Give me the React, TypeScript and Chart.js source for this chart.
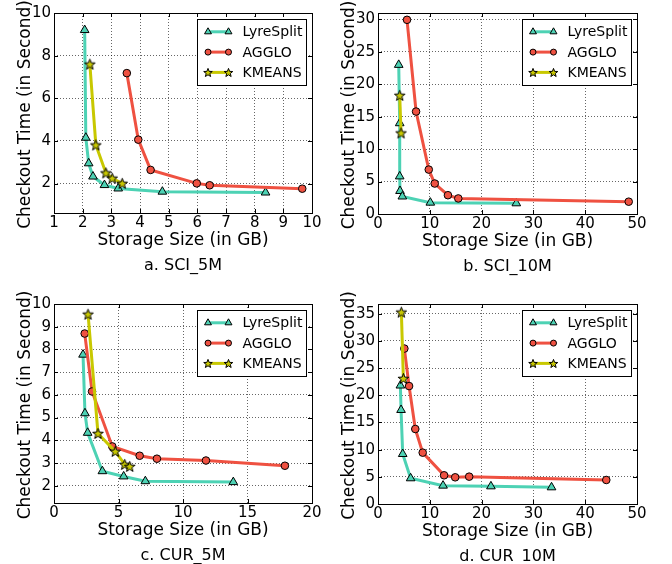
import React, { useEffect, useRef } from 'react';
import { Chart, registerables } from 'chart.js';

Chart.register(...registerables);

// ---------- shared labels ----------
const SERIES_NAMES = ['LyreSplit', 'AGGLO', 'KMEANS'];
const SERIES_COLORS = ['#4DD2B4', '#EF5141', '#C8C800'];
const X_TITLE = 'Storage Size (in GB)';
const Y_TITLE = 'Checkout Time (in Second)';

// ---------- panel a: SCI_5M ----------
const A_CAPTION = 'a. SCI_5M';
const A_X_TICKS = [1, 2, 3, 4, 5, 6, 7, 8, 9, 10];
const A_Y_TICKS = [2, 4, 6, 8, 10];
const A_LYRE_X = [2.07, 2.11, 2.21, 2.36, 2.76, 3.24, 4.78, 8.38];
const A_LYRE_Y = [9.2, 4.15, 2.95, 2.33, 1.93, 1.77, 1.62, 1.58];
const A_AGGLO_X = [3.54, 3.94, 4.37, 5.98, 6.43, 9.66];
const A_AGGLO_Y = [7.18, 4.06, 2.64, 2.01, 1.92, 1.76];
const A_KMEANS_X = [2.25, 2.46, 2.81, 3.03, 3.38];
const A_KMEANS_Y = [7.6, 3.81, 2.5, 2.25, 2.01];

// ---------- panel b: SCI_10M ----------
const B_CAPTION = 'b. SCI_10M';
const B_X_TICKS = [0, 10, 20, 30, 40, 50];
const B_Y_TICKS = [0, 5, 10, 15, 20, 25, 30];
const B_LYRE_X = [4.0, 4.19, 4.19, 4.25, 4.7, 10.1, 26.7];
const B_LYRE_Y = [23.0, 14.0, 5.8, 3.55, 2.7, 1.75, 1.65];
const B_AGGLO_X = [5.6, 7.35, 9.8, 10.95, 13.5, 15.5, 48.4];
const B_AGGLO_Y = [29.95, 15.8, 6.85, 4.7, 2.9, 2.4, 1.9];
const B_KMEANS_X = [4.19, 4.45];
const B_KMEANS_Y = [18.3, 12.5];

// ---------- panel c: CUR_5M ----------
const C_CAPTION = 'c. CUR_5M';
const C_X_TICKS = [0, 5, 10, 15, 20];
const C_Y_TICKS = [2, 3, 4, 5, 6, 7, 8, 9, 10];
const C_LYRE_X = [2.25, 2.4, 2.61, 3.75, 5.4, 7.08, 13.9];
const C_LYRE_Y = [7.77, 5.19, 4.33, 2.64, 2.41, 2.2, 2.16];
const C_AGGLO_X = [2.38, 2.95, 4.52, 6.64, 7.98, 11.78, 17.9];
const C_AGGLO_Y = [8.7, 6.15, 3.73, 3.32, 3.19, 3.11, 2.88];
const C_KMEANS_X = [2.64, 3.41, 4.75, 5.48, 5.87];
const C_KMEANS_Y = [9.55, 4.3, 3.51, 2.94, 2.85];

// ---------- panel d: CUR_10M ----------
const D_CAPTION = 'd. CUR_10M';
const D_X_TICKS = [0, 10, 20, 30, 40, 50];
const D_Y_TICKS = [0, 5, 10, 15, 20, 25, 30, 35];
const D_LYRE_X = [4.32, 4.45, 4.77, 6.3, 12.56, 21.8, 33.5];
const D_LYRE_Y = [21.8, 17.3, 9.2, 4.73, 3.38, 3.25, 3.07];
const D_AGGLO_X = [5.09, 6.0, 7.2, 8.63, 12.76, 14.9, 17.6, 44.07];
const D_AGGLO_Y = [28.6, 21.7, 13.8, 9.45, 5.28, 4.91, 5.03, 4.42];
const D_KMEANS_X = [4.51, 4.9];
const D_KMEANS_Y = [35.3, 23.1];

// ---------- layout (positions / sizes only) ----------
const W = 336;
const H = 282;
const FONT = "'DejaVu Sans', 'Liberation Sans', sans-serif";

type Rect = { l: number; t: number; r: number; b: number };
type Panel = {
  caption: string;
  xTicks: number[];
  yTicks: number[];
  xRange: [number, number];
  yRange: [number, number];
  series: { x: number[]; y: number[] }[];
  rect: Rect;
  left: number;
  top: number;
};

const PANELS: Panel[] = [
  {
    caption: A_CAPTION, xTicks: A_X_TICKS, yTicks: A_Y_TICKS, xRange: [1, 10], yRange: [0.62, 10],
    series: [{ x: A_LYRE_X, y: A_LYRE_Y }, { x: A_AGGLO_X, y: A_AGGLO_Y }, { x: A_KMEANS_X, y: A_KMEANS_Y }],
    rect: { l: 54, t: 13, r: 312, b: 213 }, left: 0, top: 0,
  },
  {
    caption: B_CAPTION, xTicks: B_X_TICKS, yTicks: B_Y_TICKS, xRange: [0, 50], yRange: [0, 31],
    series: [{ x: B_LYRE_X, y: B_LYRE_Y }, { x: B_AGGLO_X, y: B_AGGLO_Y }, { x: B_KMEANS_X, y: B_KMEANS_Y }],
    rect: { l: 42, t: 13, r: 301, b: 214 }, left: 336, top: 0,
  },
  {
    caption: C_CAPTION, xTicks: C_X_TICKS, yTicks: C_Y_TICKS, xRange: [0, 20], yRange: [1.24, 10],
    series: [{ x: C_LYRE_X, y: C_LYRE_Y }, { x: C_AGGLO_X, y: C_AGGLO_Y }, { x: C_KMEANS_X, y: C_KMEANS_Y }],
    rect: { l: 54, t: 22, r: 312, b: 221 }, left: 0, top: 282,
  },
  {
    caption: D_CAPTION, xTicks: D_X_TICKS, yTicks: D_Y_TICKS, xRange: [0, 50], yRange: [0, 36.8],
    series: [{ x: D_LYRE_X, y: D_LYRE_Y }, { x: D_AGGLO_X, y: D_AGGLO_Y }, { x: D_KMEANS_X, y: D_KMEANS_Y }],
    rect: { l: 42, t: 22, r: 301, b: 222 }, left: 336, top: 282,
  },
];

function starPath(ctx: CanvasRenderingContext2D, cx: number, cy: number, outer: number, inner: number) {
  ctx.beginPath();
  for (let i = 0; i < 10; i++) {
    const rad = (Math.PI / 5) * i - Math.PI / 2;
    const rr = i % 2 === 0 ? outer : inner;
    const px = cx + Math.cos(rad) * rr;
    const py = cy + Math.sin(rad) * rr;
    if (i === 0) ctx.moveTo(px, py);
    else ctx.lineTo(px, py);
  }
  ctx.closePath();
}

function makeStar(outer: number, inner: number, color: string): HTMLCanvasElement {
  const size = Math.ceil(outer * 2 + 3);
  const c = document.createElement('canvas');
  c.width = size;
  c.height = size;
  const ctx = c.getContext('2d')!;
  starPath(ctx, size / 2, size / 2 + 0.5, outer, inner);
  ctx.fillStyle = color;
  ctx.fill();
  ctx.lineWidth = 1;
  ctx.strokeStyle = '#000';
  ctx.stroke();
  return c;
}

function drawMarker(ctx: CanvasRenderingContext2D, kind: number, x: number, y: number, color: string) {
  ctx.save();
  ctx.fillStyle = color;
  ctx.strokeStyle = '#000';
  ctx.lineWidth = 1;
  if (kind === 0) {
    const r = 4;
    ctx.beginPath();
    let a = 0;
    ctx.moveTo(x + Math.sin(a) * r, y - Math.cos(a) * r);
    a += (2 * Math.PI) / 3;
    ctx.lineTo(x + Math.sin(a) * r, y - Math.cos(a) * r);
    a += (2 * Math.PI) / 3;
    ctx.lineTo(x + Math.sin(a) * r, y - Math.cos(a) * r);
    ctx.closePath();
    ctx.fill();
    ctx.stroke();
  } else if (kind === 1) {
    ctx.beginPath();
    ctx.arc(x, y, 3, 0, Math.PI * 2);
    ctx.fill();
    ctx.stroke();
  } else {
    starPath(ctx, x, y + 0.5, 4.5, 1.9);
    ctx.fill();
    ctx.stroke();
  }
  ctx.restore();
}

const decorPlugin = {
  id: 'decor',
  afterDraw(chart: any, _args: any, opts: any) {
    const { ctx, chartArea: ca } = chart;
    const xs = chart.scales.x;
    const ys = chart.scales.y;
    ctx.save();
    ctx.strokeStyle = '#000';
    ctx.lineWidth = 1;
    // inward ticks on all four sides
    ctx.beginPath();
    for (const t of xs.ticks) {
      const px = Math.round(xs.getPixelForValue(t.value)) + 0.5;
      ctx.moveTo(px, ca.bottom);
      ctx.lineTo(px, ca.bottom - 4);
      ctx.moveTo(px, ca.top);
      ctx.lineTo(px, ca.top + 4);
    }
    for (const t of ys.ticks) {
      const py = Math.round(ys.getPixelForValue(t.value)) + 0.5;
      ctx.moveTo(ca.left, py);
      ctx.lineTo(ca.left + 4, py);
      ctx.moveTo(ca.right, py);
      ctx.lineTo(ca.right - 4, py);
    }
    ctx.stroke();
    // frame
    ctx.strokeRect(ca.left + 0.5, ca.top + 0.5, ca.right - ca.left, ca.bottom - ca.top);

    // legend
    const bw = 109;
    const bh = 66;
    const bx = Math.round(ca.right - 6 - bw) + 0.5;
    const by = Math.round(ca.top + 6) + 0.5;
    ctx.fillStyle = '#fff';
    ctx.fillRect(bx, by, bw, bh);
    ctx.strokeStyle = '#000';
    ctx.strokeRect(bx, by, bw, bh);
    const names: string[] = opts.names;
    const colors: string[] = opts.colors;
    ctx.font = `14px ${FONT}`;
    ctx.textBaseline = 'middle';
    ctx.textAlign = 'left';
    names.forEach((name, i) => {
      const ry = by + 12.3 + i * 20.3;
      const m1 = bx + 10.5;
      const m2 = bx + 31;
      ctx.strokeStyle = colors[i];
      ctx.lineWidth = 3;
      ctx.beginPath();
      ctx.moveTo(m1, ry);
      ctx.lineTo(m2, ry);
      ctx.stroke();
      drawMarker(ctx, i, m1, ry, colors[i]);
      drawMarker(ctx, i, m2, ry, colors[i]);
      ctx.fillStyle = '#000';
      ctx.fillText(name, bx + 45, ry + 1);
    });

    // axis titles and caption
    const cx = (ca.left + ca.right) / 2;
    ctx.fillStyle = '#000';
    ctx.textAlign = 'center';
    ctx.textBaseline = 'middle';
    ctx.font = `17px ${FONT}`;
    ctx.fillText(opts.xTitle, cx, ca.bottom + 28);
    ctx.font = `16px ${FONT}`;
    ctx.fillText(opts.caption, cx, ca.bottom + 53);
    ctx.save();
    ctx.translate(ca.left - 24.5, (ca.top + ca.bottom) / 2 + 1.5);
    ctx.rotate(-Math.PI / 2);
    ctx.font = `17px ${FONT}`;
    ctx.textBaseline = 'alphabetic';
    ctx.textAlign = 'center';
    ctx.fillText(opts.yTitle, 0, 0);
    ctx.restore();
    ctx.restore();
  },
};

function PanelChart({ panel }: { panel: Panel }) {
  const ref = useRef<HTMLCanvasElement | null>(null);
  useEffect(() => {
    if (!ref.current) return;
    const star = makeStar(5.6, 2.3, SERIES_COLORS[2]);
    const styles: any[] = ['triangle', 'circle', star];
    const radii = [5, 3.8, 6];
    const orders = [2, 1, 0];
    const datasets = panel.series.map((s, i) => ({
      label: SERIES_NAMES[i],
      data: s.x.map((x, k) => ({ x, y: s.y[k] })),
      showLine: true,
      tension: 0,
      borderColor: SERIES_COLORS[i],
      borderWidth: 3,
      backgroundColor: SERIES_COLORS[i],
      pointStyle: styles[i],
      pointRadius: radii[i],
      pointBackgroundColor: SERIES_COLORS[i],
      pointBorderColor: '#000',
      pointBorderWidth: 1,
      order: orders[i],
    }));
    const { rect } = panel;
    const tickFont = { family: FONT, size: 15 };
    const chart = new Chart(ref.current, {
      type: 'scatter',
      data: { datasets },
      plugins: [decorPlugin],
      options: {
        animation: false,
        responsive: false,
        devicePixelRatio: 1,
        layout: { padding: { left: 0, top: rect.t, right: W - rect.r, bottom: 0 } },
        plugins: {
          legend: { display: false },
          tooltip: { enabled: false },
          title: { display: false },
          decor: {
            names: SERIES_NAMES,
            colors: SERIES_COLORS,
            xTitle: X_TITLE,
            yTitle: Y_TITLE,
            caption: panel.caption,
          },
        } as any,
        scales: {
          x: {
            type: 'linear',
            min: panel.xRange[0],
            max: panel.xRange[1],
            afterBuildTicks: (s: any) => {
              s.ticks = panel.xTicks.map((v) => ({ value: v }));
            },
            afterFit: (s: any) => {
              s.height = H - rect.b;
            },
            ticks: {
              font: tickFont,
              color: '#000',
              padding: 1,
              maxRotation: 0,
              autoSkip: false,
              callback: (v: any) => String(v),
            },
            grid: { color: 'rgba(0,0,0,0.6)', lineWidth: 1, drawTicks: false },
            border: { display: false, dash: [1, 2] },
          },
          y: {
            type: 'linear',
            min: panel.yRange[0],
            max: panel.yRange[1],
            afterBuildTicks: (s: any) => {
              s.ticks = panel.yTicks.map((v) => ({ value: v }));
            },
            afterFit: (s: any) => {
              s.width = rect.l;
            },
            ticks: {
              font: tickFont,
              color: '#000',
              padding: 3,
              autoSkip: false,
              callback: (v: any) => String(v),
            },
            grid: { color: 'rgba(0,0,0,0.6)', lineWidth: 1, drawTicks: false },
            border: { display: false, dash: [1, 2] },
          },
        },
      } as any,
    });
    return () => chart.destroy();
  }, [panel]);
  return (
    <canvas
      ref={ref}
      width={W}
      height={H}
      style={{ position: 'absolute', left: panel.left, top: panel.top, width: W, height: H }}
    />
  );
}

export default function App() {
  return (
    <div style={{ position: 'absolute', left: 0, top: 0, width: 672, height: 564, background: '#fff' }}>
      {PANELS.map((p, i) => (
        <PanelChart key={i} panel={p} />
      ))}
    </div>
  );
}
